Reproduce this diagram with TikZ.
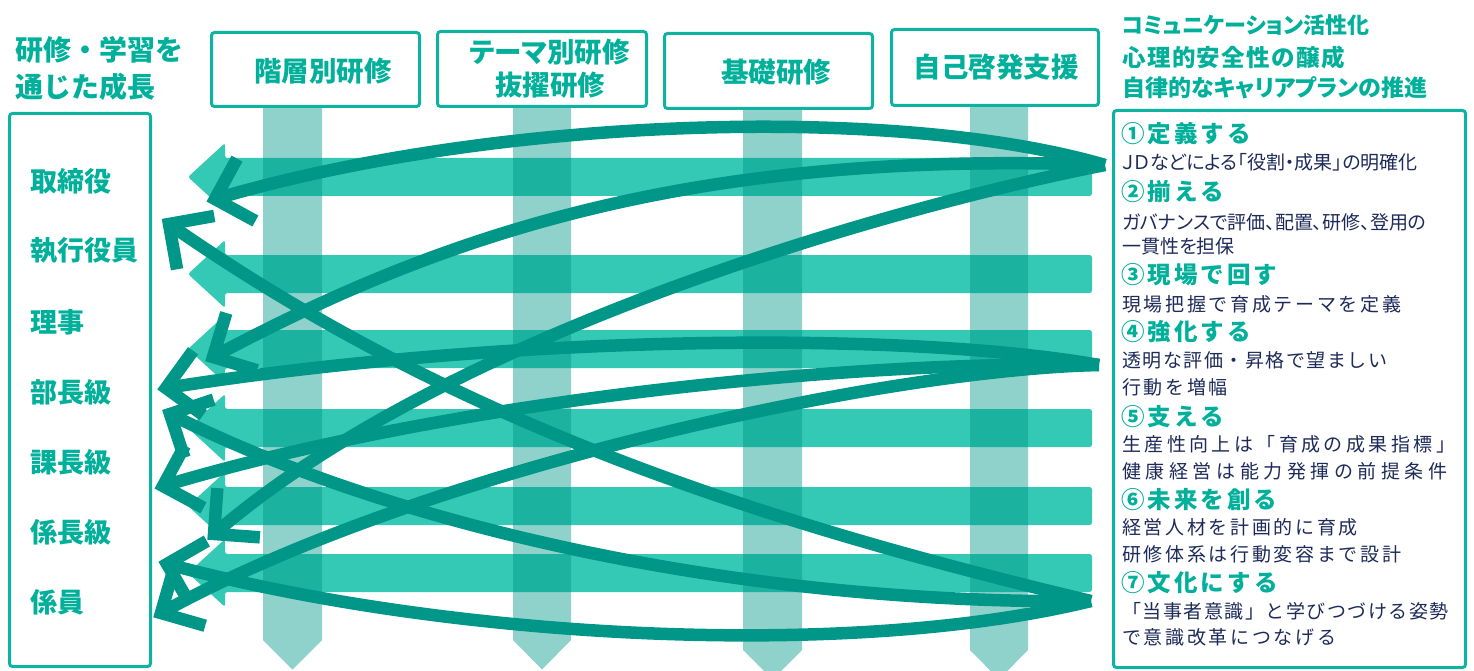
\documentclass[tikz,border=0pt]{standalone}
\usepackage{fontspec}
\setmainfont{Noto Sans CJK JP}
\newfontfamily\jpp[RawFeature=+palt]{Noto Sans CJK JP}
\usetikzlibrary{calc}
\definecolor{tealtxt}{HTML}{00B09B}
\definecolor{tealbd}{HTML}{0DB3A0}
\definecolor{hbar}{HTML}{33C9B4}
\definecolor{dteal}{HTML}{009688}
\definecolor{navy}{HTML}{1E2B5A}
\newcommand\fTitle{\fontsize{28}{34}\selectfont\bfseries}
\newcommand\fLab{\fontsize{27}{32}\selectfont\bfseries}
\newcommand\fHdr{\fontsize{27.5}{32}\selectfont\bfseries}
\newcommand\fHdrP{\jpp\fontsize{27.5}{32}\selectfont\bfseries}
\newcommand\fHeadA{\jpp\fontsize{22}{28}\selectfont\bfseries}
\newcommand\fHeadB{\jpp\fontsize{23.5}{28}\selectfont\bfseries\addfontfeatures{LetterSpace=6}}
\newcommand\fHeadC{\jpp\fontsize{23}{28}\selectfont\bfseries}
\newcommand\fStep{\fontsize{23.5}{28}\selectfont\bfseries\addfontfeatures{LetterSpace=13}}
\newcommand\fBodyA{\jpp\fontsize{19}{22}\selectfont}
\newcommand\fBodyB{\fontsize{19}{22}\selectfont\addfontfeatures{LetterSpace=14}}
\newcommand\fBodyC{\fontsize{19}{22}\selectfont\addfontfeatures{LetterSpace=24}}
\newcommand\fBodyD{\fontsize{19}{22}\selectfont\addfontfeatures{LetterSpace=8}}
\newcommand\fBodyE{\fontsize{19}{22}\selectfont\addfontfeatures{LetterSpace=18}}
\newcommand\flow[4]{%
  \draw[curve] (#1) .. controls #2 and #3 .. (#4);
  \draw[curve, line join=miter, miter limit=20] ($(#4)!46pt!45:#3$) -- (#4) -- ($(#4)!46pt!-45:#3$);
}
\begin{document}
\begin{tikzpicture}[x=1pt,y=-1pt,
  curve/.style={draw=dteal, line width=12.5pt},
  frame/.style={draw=tealbd, line width=3pt, rounded corners=3pt, fill=white, inner sep=0pt},
  tl/.style={anchor=west, inner sep=0pt, text=tealtxt},
  tc/.style={anchor=center, inner sep=0pt, text=tealtxt},
  bl/.style={anchor=west, inner sep=0pt, text=navy}]
\useasboundingbox (0,0) rectangle (1474,671);
% horizontal arrow bars
\foreach \c in {177,274,349,428,506,573} {
  \fill[hbar, rounded corners=2.5pt] (188,\c) -- (225,\c-34) -- (225,\c-19) -- (1092,\c-19)
     -- (1092,\c+19) -- (225,\c+19) -- (225,\c+34) -- cycle;
}
% vertical arrow bars
\foreach \xl/\xr/\yb in {263/322/640, 513/571/640, 743/802/650, 970/1028/650} {
  \fill[dteal, opacity=0.44] (\xl,106) -- (\xr,106) -- (\xr,\yb) -- ({(\xl+\xr)/2},{\yb+29.5}) -- (\xl,\yb) -- cycle;
}
% boxes
\node[frame, minimum width=208pt, minimum height=74pt] (h1) at (315.5,69.5) {};
\node[frame, minimum width=209pt, minimum height=75pt] (h2) at (542,69) {};
\node[frame, minimum width=208pt, minimum height=75pt] (h3) at (768.5,71) {};
\node[frame, minimum width=207pt, minimum height=76pt] (h4) at (995,67.5) {};
\node[frame, minimum width=141pt, minimum height=553pt] (lbox) at (80,390) {};
\node[frame, minimum width=352pt, minimum height=557pt] (rbox) at (1289.5,389) {};
% flows
\coordinate (P1) at (1105,165);
\coordinate (P2) at (1099,365);
\coordinate (P3) at (1091,601);
\coordinate (T1) at (215,199);
\coordinate (T2) at (169,224);
\coordinate (T3) at (213,357);
\coordinate (T4) at (166,388);
\coordinate (T5) at (170,414);
\coordinate (T6) at (163,486);
\coordinate (T7) at (214,534);
\coordinate (T8) at (167,564);
\coordinate (T9) at (161,613);
\flow{P1}{(900,105)}{(500,115)}{T1}
\flow{P1}{(700,150)}{(450,230)}{T3}
\flow{P1}{(900,205)}{(450,330)}{T7}
\flow{P2}{(900,330)}{(500,335)}{T4}
\flow{P2}{(850,360)}{(450,400)}{T6}
\flow{P2}{(880,370)}{(420,470)}{T9}
\flow{P3}{(750,520)}{(450,420)}{T2}
\flow{P3}{(750,605)}{(400,530)}{T5}
\flow{P3}{(850,660)}{(450,640)}{T8}
% title
\node[tl, font=\fTitle] (t1) at (15,50) {研修・学習を};
\node[tl, font=\fTitle] (t2) at (15,87) {通じた成長};
% header texts
\node[tc, font=\fHdr] (h1t) at (323,71.5) {階層別研修};
\node[tc, font=\fHdrP] (h2a) at (550,52.5) {テーマ別研修};
\node[tc, font=\fHdr] (h2b) at (550,85) {抜擢研修};
\node[tc, font=\fHdr] (h3t) at (776,72.5) {基礎研修};
\node[tc, font=\fHdr] (h4t) at (996,67.5) {自己啓発支援};
% level labels
\node[tl, font=\fLab] (l1) at (30,181) {取締役};
\node[tl, font=\fLab] (l2) at (30,251) {執行役員};
\node[tl, font=\fLab] (l3) at (30,322) {理事};
\node[tl, font=\fLab] (l4) at (30,392) {部長級};
\node[tl, font=\fLab] (l5) at (30,462) {課長級};
\node[tl, font=\fLab] (l6) at (30,532) {係長級};
\node[tl, font=\fLab] (l7) at (30,602) {係員};
% right heading
\node[tl, font=\fHeadA] (r1) at (1122,25) {コミュニケーション活性化};
\node[tl, font=\fHeadB] (r2) at (1122,57.5) {心理的安全性の醸成};
\node[tl, font=\fHeadC] (r3) at (1122,88) {自律的なキャリアプランの推進};
% right box content
\node[tl, font=\fStep] (s1) at (1121,134) {①定義する};
\node[bl, font=\fBodyA] (b1) at (1122,162) {ＪＤなどによる「役割・成果」の明確化};
\node[tl, font=\fStep] (s2) at (1121,192) {②揃える};
\node[bl, font=\fBodyA] (b2) at (1122,222) {ガバナンスで評価、配置、研修、登用の};
\node[bl, font=\fBodyA] (b3) at (1122,246) {一貫性を担保};
\node[tl, font=\fStep] (s3) at (1121,275) {③現場で回す};
\node[bl, font=\fBodyB] (b4) at (1122,304) {現場把握で育成テーマを定義};
\node[tl, font=\fStep] (s4) at (1121,332) {④強化する};
\node[bl, font=\fBodyD] (b5) at (1122,360) {透明な評価・昇格で望ましい};
\node[bl, font=\fBodyB] (b6) at (1122,387) {行動を増幅};
\node[tl, font=\fStep] (s5) at (1121,417) {⑤支える};
\node[bl, font=\fBodyE] (b7) at (1122,444) {生産性向上は「育成の成果指標」};
\node[bl, font=\fBodyC] (b8) at (1122,471) {健康経営は能力発揮の前提条件};
\node[tl, font=\fStep] (s6) at (1121,500) {⑥未来を創る};
\node[bl, font=\fBodyB] (b9) at (1122,527) {経営人材を計画的に育成};
\node[bl, font=\fBodyB] (b10) at (1122,554) {研修体系は行動変容まで設計};
\node[tl, font=\fStep] (s7) at (1121,583) {⑦文化にする};
\node[bl, font=\fBodyD] (b11) at (1122,611) {「当事者意識」と学びつづける姿勢};
\node[bl, font=\fBodyB] (b12) at (1122,637) {で意識改革につなげる};
\end{tikzpicture}
\end{document}
